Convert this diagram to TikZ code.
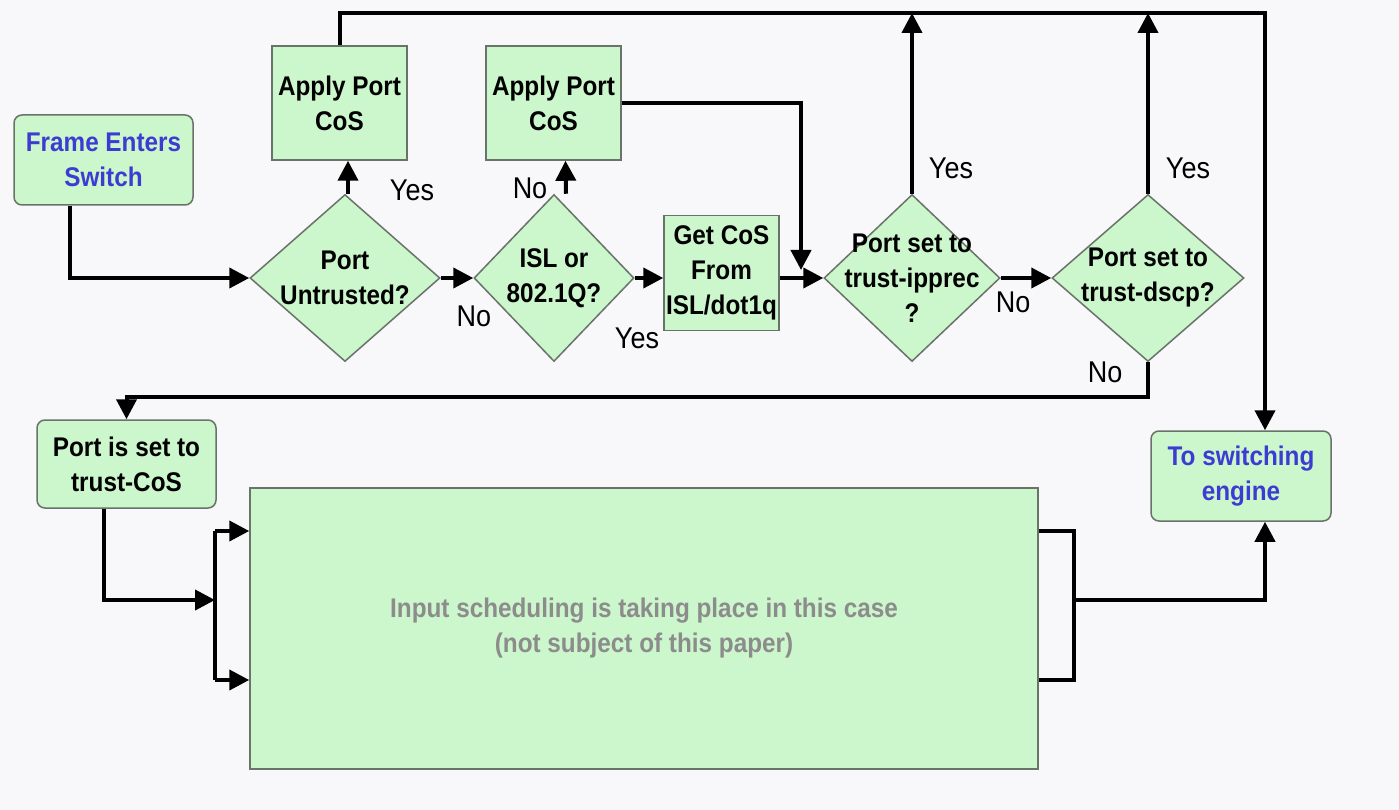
\documentclass[tikz,border=0pt]{standalone}
\usepackage{fontspec}
\setmainfont{Liberation Sans}
\newfontfamily\narrowfont[FakeStretch=0.9]{Liberation Sans}
\usetikzlibrary{arrows.meta,shapes.geometric}
\definecolor{bg}{RGB}{248,247,250}
\definecolor{boxfill}{RGB}{204,246,204}
\definecolor{boxline}{RGB}{105,115,105}
\definecolor{bluetxt}{RGB}{60,60,210}
\definecolor{graytxt}{RGB}{140,140,140}
\tikzset{
  x=1pt,y=-1pt,
  boxtext/.style={font=\narrowfont\fontsize{27}{35}\selectfont\bfseries, align=center},
  sqbox/.style={draw=boxline, line width=1.5pt, fill=boxfill, inner sep=0pt, boxtext},
  rbox/.style={sqbox, rounded corners=8pt},
  dia/.style={diamond, draw=boxline, line width=1.5pt, fill=boxfill, inner sep=0pt, minimum height=167pt},
  diatext/.style={boxtext},
  conn/.style={line width=4pt, -{Triangle[length=20pt,width=20pt]}},
  wire/.style={line width=4pt},
  lab/.style={font=\narrowfont\fontsize{30}{32}\selectfont, inner sep=0pt}
}
\begin{document}
\begin{tikzpicture}
\fill[bg] (0,0) rectangle (1399,810);
\useasboundingbox (0,0) rectangle (1399,810);

% nodes
\node[rbox, minimum width=179pt, minimum height=90pt, text=bluetxt] (frame) at (103.5,160) {Frame Enters\\Switch};
\node[sqbox, minimum width=135pt, minimum height=114pt] (apply1) at (339.5,103) {Apply Port\\CoS};
\node[sqbox, minimum width=135pt, minimum height=114pt] (apply2) at (553.5,103) {Apply Port\\CoS};
\node[dia, minimum width=190pt, label={[diatext, name=d1t]center:Port\\Untrusted?}] (d1) at (345,278) {};
\node[dia, minimum width=160pt, label={[diatext, name=d2t]center:ISL or\\802.1Q?}] (d2) at (554,278) {};
\node[sqbox, minimum width=115pt, minimum height=115pt] (get) at (721.5,273) {Get CoS\\From\\ISL/dot1q};
\node[dia, minimum width=176pt, label={[diatext, name=d3t]center:Port set to\\trust-ipprec\\?}] (d3) at (912,278) {};
\node[dia, minimum width=192pt, label={[diatext, name=d4t]center:Port set to\\trust-dscp?}] (d4) at (1148,278) {};
\node[rbox, minimum width=179pt, minimum height=88pt] (trustcos) at (126.5,464) {Port is set to\\trust-CoS};
\node[sqbox, minimum width=788pt, minimum height=281pt, text=graytxt] (big) at (644,628.5) {Input scheduling is taking place in this case\\(not subject of this paper)};
\node[rbox, minimum width=180pt, minimum height=90pt, text=bluetxt] (engine) at (1241,476) {To switching\\engine};

% helper coordinates
\coordinate (tr) at (1265,13);
\coordinate (j) at (801,270);
\coordinate (nb) at (0,397);
\coordinate (bl) at (215,600);
\coordinate (bt) at (215,531);
\coordinate (bb) at (215,680);
\coordinate (rt) at (1074,531);
\coordinate (rb) at (1074,680);
\coordinate (rm) at (1074,600);

% connectors
\draw[conn] ([xshift=-34]frame.south) |- (d1.west);
\draw[conn] ([xshift=3]d1.north) -- ([xshift=3]d1.north |- apply1.south);
\draw[conn] (d1.east) -- (d2.west);
\draw[conn] ([xshift=12]d2.north) -- ([xshift=12]apply2.south);
\draw[conn] (d2.east) -- (d2.east -| get.west);
\draw[conn] (d2.east -| get.east) -- (d3.west);
\draw[conn] (apply2.east) -| (j);
\draw[conn] (d3.east) -- (d4.west);
\draw[conn] (d3.north) -- (d3.north |- tr);
\draw[conn] (d4.north) -- (d4.north |- tr);
\draw[conn] (apply1.north) |- (tr) -- ([xshift=24]engine.north);
\draw[conn] (d4.south) |- (trustcos.north |- nb) -- (trustcos.north);
\draw[conn] ([xshift=-23]trustcos.south) |- (bl);
\draw[wire] (bt) -- (bb);
\draw[conn] (bt) -- (bt -| big.west);
\draw[conn] (bb) -- (bb -| big.west);
\draw[wire] (rt -| big.east) -- (rt) -- (rb) -- (rb -| big.east);
\draw[conn] (rm) -| ([xshift=24]engine.south);

% labels
\node[lab] (y1) at (412,190) {Yes};
\node[lab] (n1) at (474,316) {No};
\node[lab] (n2) at (530,188) {No};
\node[lab] (y2) at (637,338) {Yes};
\node[lab] (y3) at (951,168) {Yes};
\node[lab] (n3) at (1013,302) {No};
\node[lab] (y4) at (1188,168) {Yes};
\node[lab] (n4) at (1105,372) {No};
\end{tikzpicture}
\end{document}
